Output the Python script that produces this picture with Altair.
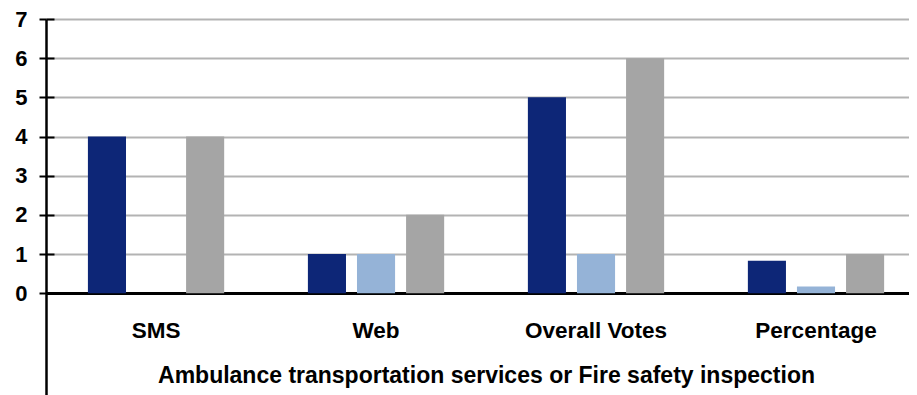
import altair as alt
import pandas as pd

categories = ["SMS", "Web", "Overall Votes", "Percentage"]
series = ["Series 1", "Series 2", "Series 3"]
series1 = [4, 1, 5, 0.83]
series2 = [0, 1, 1, 0.17]
series3 = [4, 2, 6, 1.0]
colors = ["#0d2677", "#95b3d7", "#a5a5a5"]
y_ticks = [0, 1, 2, 3, 4, 5, 6, 7]
x_title = "Ambulance transportation services or Fire safety inspection"

rows = []
for i, c in enumerate(categories):
    for s, vals in zip(series, [series1, series2, series3]):
        rows.append({"category": c, "series": s, "value": vals[i]})
df = pd.DataFrame(rows)

FONT = "Liberation Sans"
y_scale = alt.Scale(domain=[-2.6, 7], nice=False, zero=True)
x_scale = alt.Scale(paddingInner=0.327, paddingOuter=0.125, align=0.655)

x_enc = alt.X(
    "category:N",
    sort=categories,
    scale=x_scale,
    axis=alt.Axis(
        title=x_title,
        orient="bottom",
        offset=-102,
        labelAngle=0,
        ticks=False,
        domainColor="black",
        domainWidth=3,
        labelFont=FONT,
        labelFontWeight="bold",
        labelFontSize=22.5,
        labelColor="black",
        labelPadding=26,
        titleFont=FONT,
        titleFontWeight="bold",
        titleFontSize=23,
        titleColor="black",
        titlePadding=23,
        titleX=440,
        grid=False,
    ),
)

xoff_enc = alt.XOffset(
    "series:N",
    sort=series,
    scale=alt.Scale(paddingInner=0.224, paddingOuter=0.12),
)

bars = alt.Chart(df).mark_bar().encode(
    x=x_enc,
    xOffset=xoff_enc,
    y=alt.Y(
        "value:Q",
        scale=y_scale,
        axis=alt.Axis(
            title=None,
            values=y_ticks,
            format="d",
            domainColor="black",
            domainWidth=2.5,
            tickColor="black",
            tickWidth=2,
            tickSize=7,
            labelFont=FONT,
            labelFontWeight="bold",
            labelFontSize=22,
            labelColor="black",
            labelPadding=12,
            grid=True,
            gridColor="#b3b3b3",
            gridWidth=2,
        ),
    ),
    color=alt.Color(
        "series:N",
        sort=series,
        scale=alt.Scale(domain=series, range=colors),
        legend=None,
    ),
)

# inner half of Excel's "cross" tick marks on the value axis
inner_ticks = alt.Chart(df).mark_bar(opacity=0).encode(
    x=alt.X("category:N", sort=categories, axis=None),
    xOffset=alt.XOffset("series:N", sort=series),
    y=alt.Y(
        "value:Q",
        scale=y_scale,
        axis=alt.Axis(
            title=None,
            orient="left",
            values=y_ticks,
            offset=-8,
            domain=False,
            labels=False,
            grid=False,
            tickColor="black",
            tickWidth=2,
            tickSize=8,
        ),
    ),
)

chart = alt.layer(bars, inner_ticks).resolve_axis(
    x="independent", y="independent"
).properties(
    width=863,
    height=376,
    autosize=alt.AutoSizeParams(type="none"),
    padding={"left": 38, "top": 11, "right": 0, "bottom": 0},
).configure_view(stroke=None).configure(background="white")

chart.save("out.html", embed_options={"renderer": "svg", "actions": False})
